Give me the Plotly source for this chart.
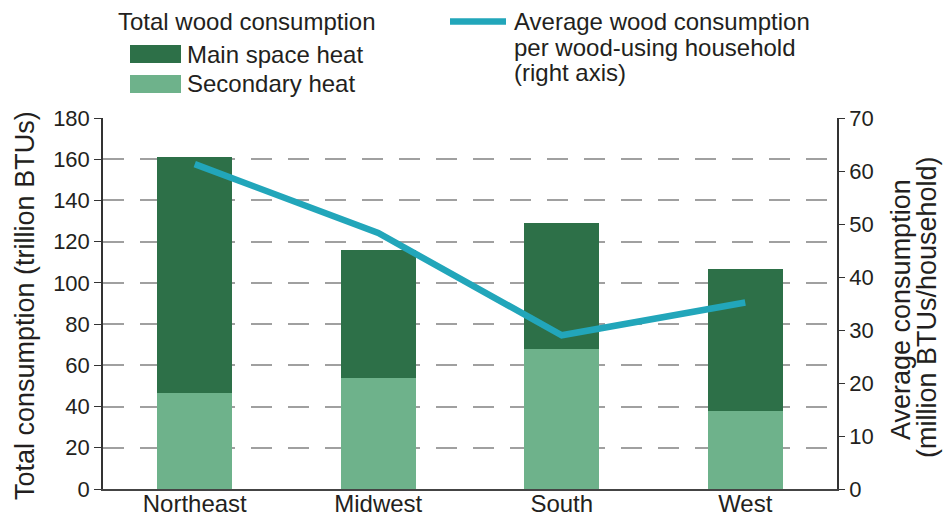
import plotly.graph_objects as go

regions = ["Northeast", "Midwest", "South", "West"]
secondary_heat = [46.7, 54.0, 68.1, 37.8]
total_consumption = [161.2, 116.0, 128.9, 106.9]
main_space_heat = [t - s for t, s in zip(total_consumption, secondary_heat)]
avg_per_household = [61.3, 48.3, 29.0, 35.2]

left_ticks = list(range(0, 181, 20))
right_ticks = list(range(0, 71, 10))

DARK = "#2d7048"
LIGHT = "#6eb28b"
TEAL = "#22a6ba"
TXT = "#231f20"
FONT = "Liberation Sans, Arial, sans-serif"

W, H = 943, 517
# plot area in window pixels: x 103..837, y 118..489
L, T = 103, 118
R, B = W - 837, H - 489
PW, PH = W - L - R, H - T - B


def px(sx):
    return (sx - L) / PW


def py(sy):
    return (H - B - sy) / PH


fig = go.Figure()
fig.add_trace(go.Bar(x=regions, y=secondary_heat, marker_color=LIGHT, marker_line_width=0,
                     name="Secondary heat", showlegend=False))
fig.add_trace(go.Bar(x=regions, y=main_space_heat, marker_color=DARK, marker_line_width=0,
                     name="Main space heat", showlegend=False))
fig.add_trace(go.Scatter(x=regions, y=avg_per_household, yaxis="y2", mode="lines",
                         line=dict(color=TEAL, width=6.5), showlegend=False,
                         name="Average wood consumption per wood-using household"))

fig.update_layout(
    width=W, height=H,
    margin=dict(l=L, r=R, t=T, b=B),
    paper_bgcolor="white", plot_bgcolor="white",
    barmode="stack", bargap=0.59,
    font=dict(family=FONT, size=22, color=TXT),
    xaxis=dict(range=[-0.5, 3.5], showline=True, linecolor="#444", linewidth=2,
               ticks="", tickfont=dict(size=24, color=TXT), showgrid=False, automargin=False,
               ticklabelstandoff=-8),
    yaxis=dict(range=[0, 180], tickvals=left_ticks, showline=True, linecolor="#333",
               linewidth=1.5, ticks="outside", ticklen=7, tickcolor="#333",
               tickfont=dict(size=22, color=TXT), showgrid=True, gridcolor="#a0a0a0",
               gridwidth=1.5, griddash="21px,16px", zeroline=False, automargin=False),
    yaxis2=dict(range=[0, 70], tickvals=right_ticks, overlaying="y", side="right",
                showline=True, linecolor="#333", linewidth=1.5, ticks="outside", ticklen=6,
                tickcolor="#333", tickfont=dict(size=22, color=TXT), showgrid=False,
                zeroline=False, automargin=False),
)

# Axis titles
fig.add_annotation(xref="paper", yref="paper", x=px(25), y=py(306), textangle=-90,
                   text="Total consumption (trillion BTUs)", showarrow=False,
                   xanchor="center", yanchor="middle", font=dict(size=27, color=TXT))
for txt, xc, yc in [("Average consumption", 901, 310), ("(million BTUs/household)", 927, 307)]:
    fig.add_annotation(xref="paper", yref="paper", x=px(xc), y=py(yc), textangle=-90,
                       text=txt, showarrow=False, xanchor="center", yanchor="middle",
                       font=dict(size=27, color=TXT))

# Custom legend
fig.add_annotation(xref="paper", yref="paper", x=px(116), y=py(22),
                   text="Total wood consumption", showarrow=False, xanchor="left", yanchor="middle",
                   font=dict(size=24, color=TXT))
for label, color, yc in [("Main space heat", DARK, 54), ("Secondary heat", LIGHT, 84)]:
    fig.add_shape(type="rect", xref="paper", yref="paper",
                  x0=px(130), x1=px(181), y0=py(yc + 9), y1=py(yc - 9),
                  fillcolor=color, line_width=0)
    fig.add_annotation(xref="paper", yref="paper", x=px(185), y=py(yc),
                       text=label, showarrow=False, xanchor="left", yanchor="middle",
                       font=dict(size=24, color=TXT))
fig.add_shape(type="line", xref="paper", yref="paper",
              x0=px(450), x1=px(506), y0=py(21.5), y1=py(21.5),
              line=dict(color=TEAL, width=6.5))
for txt, yc in [("Average wood consumption", 22), ("per wood-using household", 47),
                ("(right axis)", 72)]:
    fig.add_annotation(xref="paper", yref="paper", x=px(512), y=py(yc),
                       text=txt, showarrow=False, xanchor="left", yanchor="middle",
                       font=dict(size=24, color=TXT))

fig.write_html("out.html", config={"displayModeBar": False},
               post_script="document.body.style.margin='0px';document.body.style.overflow='hidden';")
